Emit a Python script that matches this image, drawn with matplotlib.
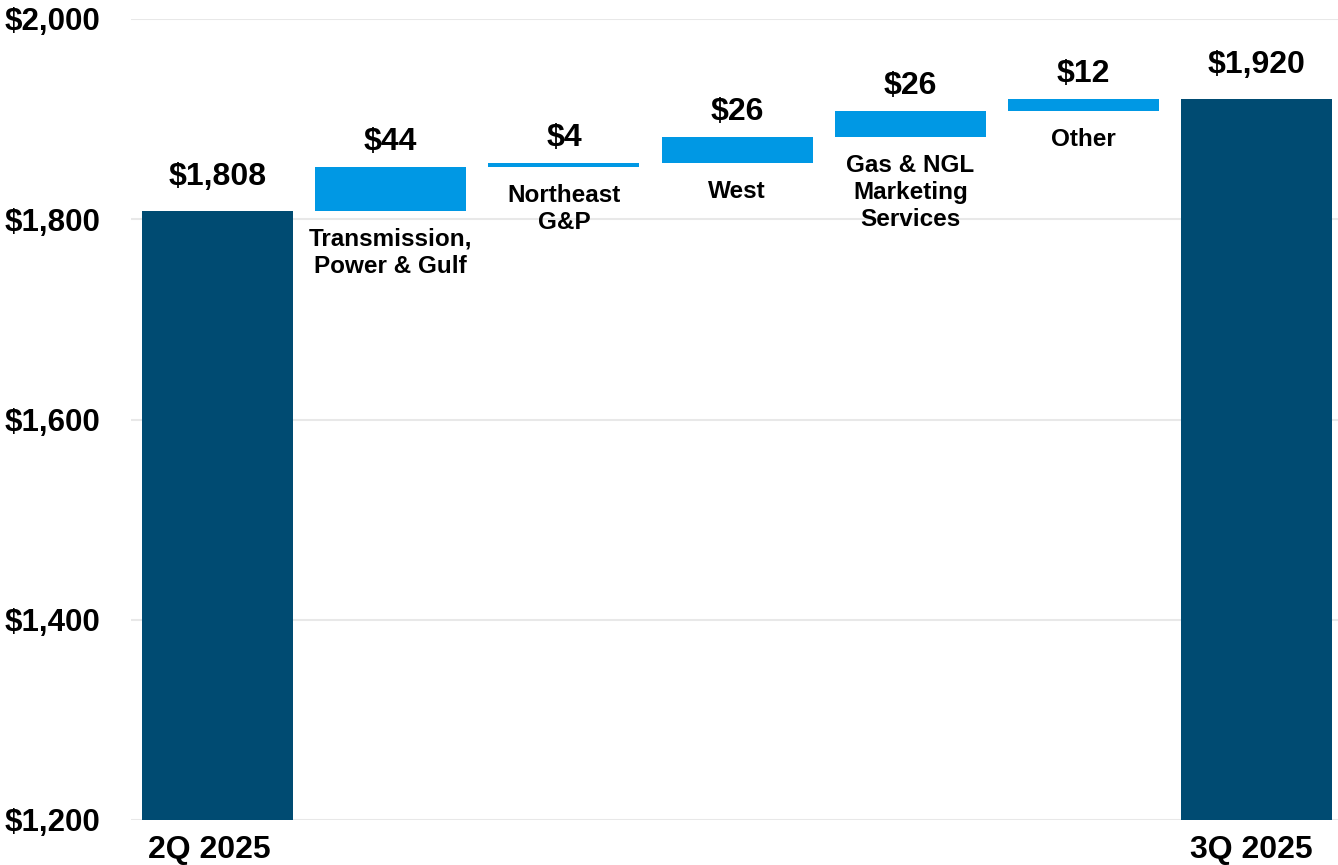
import matplotlib
matplotlib.use("Agg")
import matplotlib.pyplot as plt

# data (millions)
labels = ["2Q 2025", "Transmission,\nPower & Gulf", "Northeast\nG&P", "West",
          "Gas & NGL\nMarketing\nServices", "Other", "3Q 2025"]
start_total = 1808
changes = [44, 4, 26, 26, 12]
end_total = 1920
yticks = [1200, 1400, 1600, 1800, 2000]

plt.rcParams['font.family'] = ['Liberation Sans', 'DejaVu Sans']
plt.rcParams['font.weight'] = 'bold'

navy = '#004B72'
blue = '#0098E4'

fig = plt.figure(figsize=(13.38, 8.65), dpi=100)
ax = fig.add_axes([131 / 1338, 45 / 865, 1 - 131 / 1338, (846 - 45) / 865])
ax.set_ylim(1200, 2000)
ax.set_xlim(-0.5, 6.47)

w = 0.872
# totals
ax.bar(0, start_total - 1200, bottom=1200, width=w, color=navy, zorder=3)
ax.bar(6, end_total - 1200, bottom=1200, width=w, color=navy, zorder=3)
ax.annotate(f"${start_total:,}", (0, start_total), xytext=(0, 14), textcoords='offset points',
            ha='center', va='bottom', fontsize=23, fontweight='bold')
ax.annotate(f"${end_total:,}", (6, end_total), xytext=(0, 14), textcoords='offset points',
            ha='center', va='bottom', fontsize=23, fontweight='bold')

# steps
level = start_total
for i, c in enumerate(changes, start=1):
    ax.bar(i, c, bottom=level, width=w, color=blue, zorder=3)
    ax.annotate(f"${c}", (i, level + c), xytext=(0, 7), textcoords='offset points',
                ha='center', va='bottom', fontsize=23, fontweight='bold')
    ax.annotate(labels[i], (i, level), xytext=(0, -12), textcoords='offset points',
                ha='center', va='top', fontsize=17.5, fontweight='bold', linespacing=1.22)
    level += c

ax.set_yticks(yticks)
ax.set_yticklabels([f"${v:,}" for v in yticks], fontsize=22.5, fontweight='bold')
ax.set_xticks([-0.05, 5.97])
ax.set_xticklabels([labels[0], labels[6]], fontsize=23, fontweight='bold')
ax.tick_params(axis='y', length=0, pad=22)
ax.tick_params(axis='x', length=0, pad=11)
ax.grid(axis='y', color='#E8E8E8', linewidth=1.5, zorder=0)
for s in ax.spines.values():
    s.set_visible(False)
ax.set_axisbelow(True)

fig.savefig("out.png", dpi=100)
